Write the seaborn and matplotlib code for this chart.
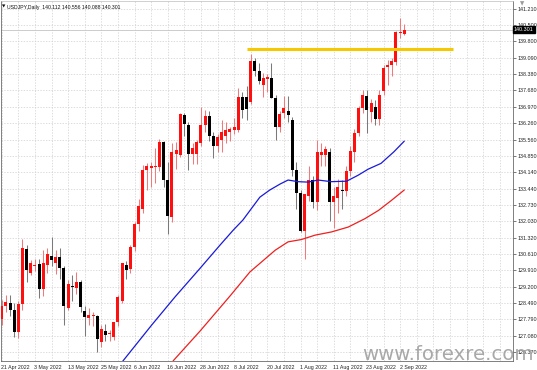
import matplotlib
matplotlib.use("Agg")
import matplotlib.pyplot as plt
import matplotlib.transforms as mtrans
import seaborn as sns
import numpy as np
import pandas as pd

# ---------------- data ----------------
dates = list(pd.bdate_range("2022-04-21", "2022-09-05"))

opens = [127.80, 128.38, 128.48, 128.18, 127.23, 128.44, 130.81, 129.78, 130.10, 130.17,
         129.09, 130.12, 130.51, 130.21, 130.47, 129.99, 128.30, 129.22, 129.13, 129.39,
         128.14, 127.84, 127.95, 127.93, 126.80, 127.27, 127.15, 127.02, 127.66, 128.57,
         130.12, 129.95, 130.90, 131.89, 132.58, 134.26, 134.35, 134.38, 134.39, 135.47,
         133.83, 132.20, 134.95, 134.91, 136.64, 136.20, 134.95, 134.95, 135.43, 136.20,
         136.59, 135.73, 135.26, 135.52, 135.73, 135.90, 135.99, 135.95, 137.41, 137.41,
         137.20, 138.97, 138.54, 137.93, 138.19, 138.23, 137.37, 136.12, 136.72, 136.81,
         136.42, 134.26, 133.27, 131.63, 133.10, 133.83, 132.84, 134.91, 134.91, 135.04,
         132.88, 133.02, 133.40, 133.32, 134.22, 135.04, 135.86, 136.90, 137.46, 136.77,
         136.98, 136.46, 137.67, 138.71, 138.79, 138.92, 140.18, 140.112]
highs = [128.65, 128.85, 128.85, 128.50, 128.60, 131.28, 131.00, 130.35, 130.40, 130.40,
         130.80, 130.86, 131.37, 130.80, 130.86, 130.10, 129.50, 129.70, 129.82, 129.50,
         128.35, 128.30, 128.10, 128.00, 127.55, 127.60, 127.35, 127.70, 128.85, 130.20,
         130.30, 131.00, 132.00, 133.00, 134.48, 134.55, 134.60, 135.20, 135.60, 135.50,
         134.60, 135.40, 135.45, 136.72, 136.72, 136.30, 135.40, 135.55, 136.98, 136.85,
         136.80, 135.90, 135.80, 136.40, 136.30, 136.10, 136.50, 137.80, 137.60, 137.87,
         139.25, 139.10, 138.85, 138.45, 138.40, 138.85, 137.50, 136.80, 137.45, 137.45,
         136.55, 134.60, 133.40, 133.20, 134.40, 134.00, 135.52, 135.40, 135.30, 135.20,
         133.50, 133.85, 133.80, 134.40, 135.30, 136.00, 137.00, 137.70, 137.70, 137.30,
         137.25, 137.70, 138.80, 139.00, 139.10, 140.23, 140.80, 140.556]
lows = [127.55, 128.10, 127.95, 127.05, 126.98, 128.20, 129.39, 129.70, 129.90, 128.70,
        128.80, 129.80, 130.10, 129.75, 129.52, 127.53, 128.20, 128.60, 128.90, 128.10,
        127.06, 127.55, 127.50, 126.37, 126.60, 126.85, 126.85, 126.90, 127.50, 128.50,
        129.55, 129.80, 130.75, 131.60, 132.40, 133.40, 133.50, 133.70, 134.20, 133.50,
        131.50, 132.00, 134.30, 134.80, 135.70, 134.26, 134.50, 134.50, 135.30, 135.90,
        135.50, 134.78, 135.00, 135.00, 135.40, 135.50, 135.80, 135.90, 136.51, 136.40,
        137.10, 138.30, 137.95, 137.40, 137.60, 137.37, 135.56, 135.90, 136.50, 136.30,
        134.00, 132.54, 131.55, 130.40, 132.90, 132.60, 132.50, 134.40, 134.40, 132.02,
        131.75, 132.40, 132.55, 133.10, 134.00, 134.60, 135.70, 136.70, 135.86, 136.30,
        136.20, 136.20, 137.50, 137.90, 138.30, 138.80, 139.95, 140.088]
closes = [128.38, 128.55, 128.18, 127.23, 128.44, 130.86, 129.91, 130.21, 130.14, 129.09,
          130.21, 130.60, 130.34, 130.47, 129.99, 128.35, 129.30, 129.17, 129.39, 128.31,
          127.88, 127.97, 127.97, 126.93, 127.36, 127.10, 127.19, 127.66, 128.74, 130.21,
          129.91, 130.90, 131.89, 132.67, 134.26, 134.40, 134.42, 134.42, 135.47, 133.83,
          132.24, 135.00, 135.12, 136.68, 136.25, 134.95, 135.21, 135.47, 136.20, 136.59,
          135.73, 135.26, 135.69, 135.90, 135.95, 136.03, 136.12, 137.41, 136.85, 136.89,
          138.97, 138.54, 138.10, 138.23, 138.28, 137.37, 136.12, 136.68, 136.94, 136.64,
          134.26, 133.27, 131.63, 133.19, 133.83, 132.84, 135.00, 135.04, 135.17, 132.88,
          133.10, 133.49, 133.32, 134.22, 135.08, 135.86, 136.94, 137.50, 136.85, 137.15,
          136.46, 137.50, 138.66, 138.79, 138.97, 140.22, 140.20, 140.301]

# moving averages read at a few bars (bar number, price)
blue_ma_bar = [29.0, 36.1, 41.7, 47.8, 52.6, 55.8, 58.1, 62.2, 64.6, 67.1, 69.0, 71.4,
               73.8, 76.2, 79.4, 83.1, 85.9, 88.3, 91.4, 94.5, 97.0]
blue_ma_val = [125.95, 127.54, 128.75, 130.00, 131.00, 131.65, 132.08, 133.07, 133.38,
               133.64, 133.81, 133.74, 133.72, 133.81, 133.74, 133.76, 134.02, 134.28,
               134.53, 135.03, 135.49]
red_ma_bar = [41.3, 47.8, 55.0, 59.8, 65.9, 69.0, 72.2, 75.5, 79.5, 83.5, 87.5, 90.8,
              93.9, 97.0]
red_ma_val = [126.00, 127.29, 128.80, 129.84, 130.78, 131.14, 131.24, 131.43, 131.57,
              131.78, 132.14, 132.50, 132.93, 133.38]

resistance_price = 139.49
resistance_from, resistance_to = 59.1, 108.8

price_ticks = [141.210, 140.500, 139.800, 139.090, 138.380, 137.680, 136.970, 136.260,
               135.560, 134.850, 134.140, 133.440, 132.730, 132.030, 131.320, 130.610,
               129.910, 129.200, 128.490, 127.790, 127.080, 126.370]
date_labels = ["21 Apr 2022", "3 May 2022", "13 May 2022", "25 May 2022", "6 Jun 2022",
               "16 Jun 2022", "28 Jun 2022", "8 Jul 2022", "20 Jul 2022", "1 Aug 2022",
               "11 Aug 2022", "23 Aug 2022", "2 Sep 2022"]
date_label_days = ["2022-04-21", "2022-05-03", "2022-05-13", "2022-05-25", "2022-06-06",
                   "2022-06-16", "2022-06-28", "2022-07-08", "2022-07-20", "2022-08-01",
                   "2022-08-11", "2022-08-23", "2022-09-02"]
header = "USDJPY,Daily  140.112 140.556 140.088 140.301"
last_price = 140.301

# ---------------- drawing ----------------
sns.set_theme(style="white")
plt.rcParams['font.family'] = ['Liberation Sans', 'DejaVu Sans']

W, H = 537, 370
fig = plt.figure(figsize=(W / 100, H / 100), dpi=100)
fig.patch.set_facecolor("white")
ax = fig.add_axes([0.5 / W, 1 - 361 / H, 512.5 / W, 360 / H])
ax.set_facecolor("white")

df = pd.DataFrame({"date": dates, "open": opens, "high": highs, "low": lows, "close": closes})
df["bar"] = np.arange(len(df))
up = df["close"] >= df["open"]

# wicks
for is_up, col in [(True, "#f07a7a"), (False, "#7a7a7a")]:
    sub = df[up == is_up]
    ax.vlines(sub["bar"], sub["low"], sub["high"], colors=col, lw=0.75, zorder=3)
# bodies
body_bottom = np.minimum(df["open"], df["close"])
body_h = np.maximum(np.abs(df["close"] - df["open"]), 0.045)
ax.bar(df["bar"], body_h, bottom=body_bottom, width=0.72,
       color=np.where(up, "#ff1010", "#000000"), linewidth=0, zorder=4)

# moving averages
sns.lineplot(x=blue_ma_bar, y=blue_ma_val, ax=ax, color="#1a1ad8", lw=0.9, zorder=5)
sns.lineplot(x=red_ma_bar, y=red_ma_val, ax=ax, color="#ee2020", lw=0.9, zorder=5)

# resistance line
ax.plot([resistance_from, resistance_to], [resistance_price, resistance_price],
        color="#f5c800", lw=2.2, solid_capstyle="butt", zorder=6)

# bid line
ax.axhline(last_price, color="#c4c4c4", lw=0.6, zorder=2)

ax.set_xlim(-0.3, 123.2)
ax.set_ylim(125.994, 141.543)

# grid
ax.set_xticks(np.arange(0, 124, 4))
ax.set_yticks(price_ticks)
ax.grid(True, color="#cfcfcf", lw=0.5, linestyle=(0, (2, 2)))
ax.tick_params(axis="x", length=0, labelbottom=False)
ax.yaxis.tick_right()
ax.tick_params(axis="y", length=2, width=0.5, color="#444444", pad=1.2,
               labelsize=3.9, labelcolor="#222222")
ax.set_yticklabels([f"{p:.3f}" for p in price_ticks])

for s in ["left", "bottom", "right"]:
    ax.spines[s].set_color("#6a6a6a")
    ax.spines[s].set_linewidth(0.6)
ax.spines["top"].set_color("#bdbdbd")
ax.spines["top"].set_linewidth(0.5)

# date labels
date_index = {d.strftime("%Y-%m-%d"): i for i, d in enumerate(dates)}
trans = mtrans.blended_transform_factory(ax.transData, fig.transFigure)
for lab, day in zip(date_labels, date_label_days):
    ax.text(date_index[day] - 0.15, 1 - 367.4 / H, lab, transform=trans, ha="left",
            va="center", fontsize=3.8, color="#222222", clip_on=False)

# current price box
ax.text(1.002, last_price, f"{last_price:.3f}", transform=ax.get_yaxis_transform(),
        ha="left", va="center", fontsize=3.9, color="white", zorder=10,
        bbox=dict(boxstyle="square,pad=0.15", fc="black", ec="black"))

# header
fig.text(2 / W, 1 - 7 / H, "\u25bc", fontsize=3.2, color="#111111", va="center", ha="left",
         family="DejaVu Sans")
fig.text(7 / W, 1 - 7 / H, header, fontsize=3.7, color="#111111", va="center", ha="left")
fig.text(522 / W, 1 - 3.5 / H, "\u25bc", fontsize=4, color="#9a9a9a", va="center",
         ha="center", family="DejaVu Sans")

# watermark
fig.text(362 / W, 1 - 359.8 / H, "www.forexre.com", fontsize=14.2, color="#a0a0a0",
         va="baseline", ha="left", alpha=0.9, zorder=20, family="DejaVu Sans")

fig.savefig("out.png", dpi=100, facecolor="white")
